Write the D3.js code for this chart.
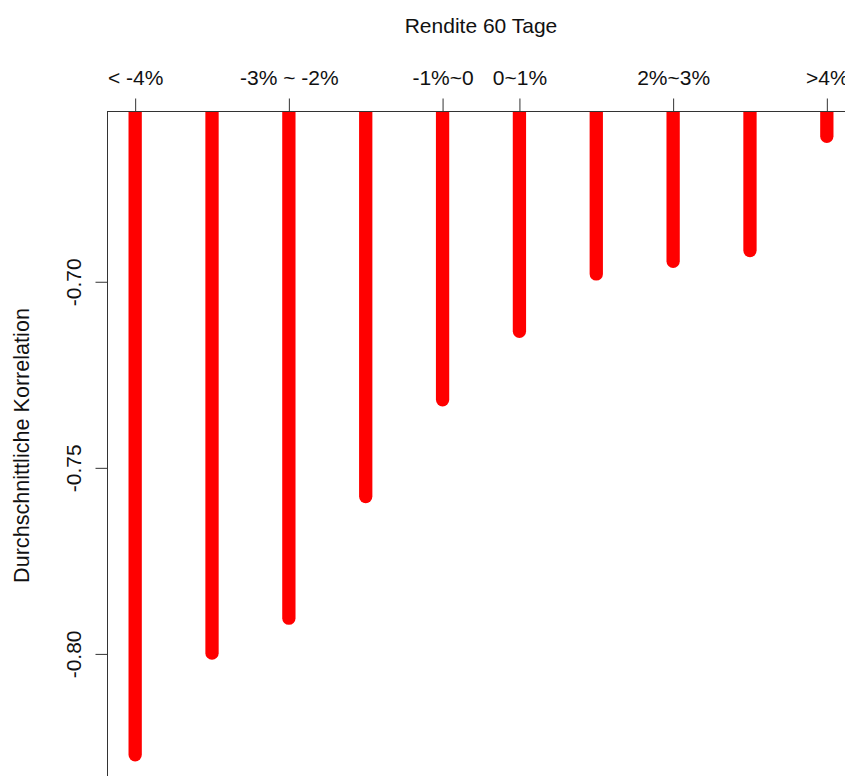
<!DOCTYPE html>
<html>
<head>
<meta charset="utf-8">
<script src="https://cdn.jsdelivr.net/npm/d3@7"></script>
<style>
  html, body { margin: 0; padding: 0; background: #fff; overflow: hidden; }
  svg { display: block; }
  text { font-family: "Liberation Sans", Arial, sans-serif; }
</style>
</head>
<body>
<script>
// ---- data ----
const positions = [1, 2, 3, 4, 5, 6, 7, 8, 9, 10];
const correlations = [-0.8271, -0.7998, -0.7904, -0.7577, -0.7317, -0.7133, -0.6979, -0.6945, -0.6916, -0.6609];
const tickPositions = [1, 3, 5, 6, 8, 10];
const tickLabels = ["< -4%", "-3% ~ -2%", "-1%~0", "0~1%", "2%~3%", ">4%"];
const yTicks = [-0.70, -0.75, -0.80];
const title = "Rendite 60 Tage";
const yTitle = "Durchschnittliche Korrelation";

const W = 845, H = 776;
const plot = { left: 107.5, top: 111.5, right: 854.5, bottom: 779.5 };

const svg = d3.select("body").append("svg").attr("width", W).attr("height", H);

// R-style 4% range extension
const xExt = (d3.max(positions) - d3.min(positions)) * 0.04;
const yMin = d3.min(correlations), yMax = d3.max(correlations);
const yExt = (yMax - yMin) * 0.04;

const x = d3.scaleLinear()
  .domain([d3.min(positions) - xExt, d3.max(positions) + xExt])
  .range([plot.left, plot.right]);
const y = d3.scaleLinear()
  .domain([yMin - yExt, yMax + yExt])
  .range([plot.bottom, plot.top]);

svg.append("defs").append("clipPath").attr("id", "clip")
  .append("rect")
  .attr("x", plot.left).attr("y", plot.top)
  .attr("width", plot.right - plot.left).attr("height", plot.bottom - plot.top);

// bars (type = "h")
svg.append("g").attr("clip-path", "url(#clip)")
  .selectAll("line").data(positions).join("line")
  .attr("x1", d => x(d)).attr("x2", d => x(d))
  .attr("y1", y(0))
  .attr("y2", (d, i) => y(correlations[i]))
  .attr("stroke", "#ff0000")
  .attr("stroke-width", 13.3)
  .attr("stroke-linecap", "round");

// box
svg.append("rect")
  .attr("x", plot.left).attr("y", plot.top)
  .attr("width", plot.right - plot.left).attr("height", plot.bottom - plot.top)
  .attr("fill", "none").attr("stroke", "#333").attr("stroke-width", 1);

// top axis
const topAxis = d3.axisTop(x)
  .tickValues(tickPositions)
  .tickFormat((d, i) => tickLabels[i])
  .tickSize(13).tickPadding(14).tickSizeOuter(0);
const gTop = svg.append("g").attr("transform", `translate(0,${plot.top})`).call(topAxis);
gTop.select(".domain").remove();
gTop.selectAll(".tick line").attr("stroke", "#333");
gTop.selectAll(".tick text")
  .attr("font-family", "Liberation Sans, Arial, sans-serif")
  .attr("font-size", 21).attr("fill", "#111");

// left axis
const fmt = d3.format(".2f");
const leftAxis = d3.axisLeft(y)
  .tickValues(yTicks)
  .tickFormat(d => fmt(d).replace("\u2212", "-"))
  .tickSize(12).tickSizeOuter(0);
const gLeft = svg.append("g").attr("transform", `translate(${plot.left},0)`).call(leftAxis);
gLeft.select(".domain").remove();
gLeft.selectAll(".tick line").attr("stroke", "#333");
gLeft.selectAll(".tick text")
  .attr("font-family", "Liberation Sans, Arial, sans-serif")
  .attr("font-size", 21).attr("fill", "#111")
  .attr("text-anchor", "middle")
  .attr("x", null).attr("dy", null)
  .attr("transform", "translate(-27,0) rotate(-90)");

// titles
svg.append("text")
  .attr("x", (plot.left + plot.right) / 2).attr("y", 33)
  .attr("text-anchor", "middle")
  .attr("font-size", 21).attr("fill", "#111")
  .text(title);

svg.append("text")
  .attr("transform", `translate(29,${(plot.top + plot.bottom) / 2}) rotate(-90)`)
  .attr("text-anchor", "middle")
  .attr("font-size", 21.6).attr("fill", "#111")
  .text(yTitle);
</script>
</body>
</html>
